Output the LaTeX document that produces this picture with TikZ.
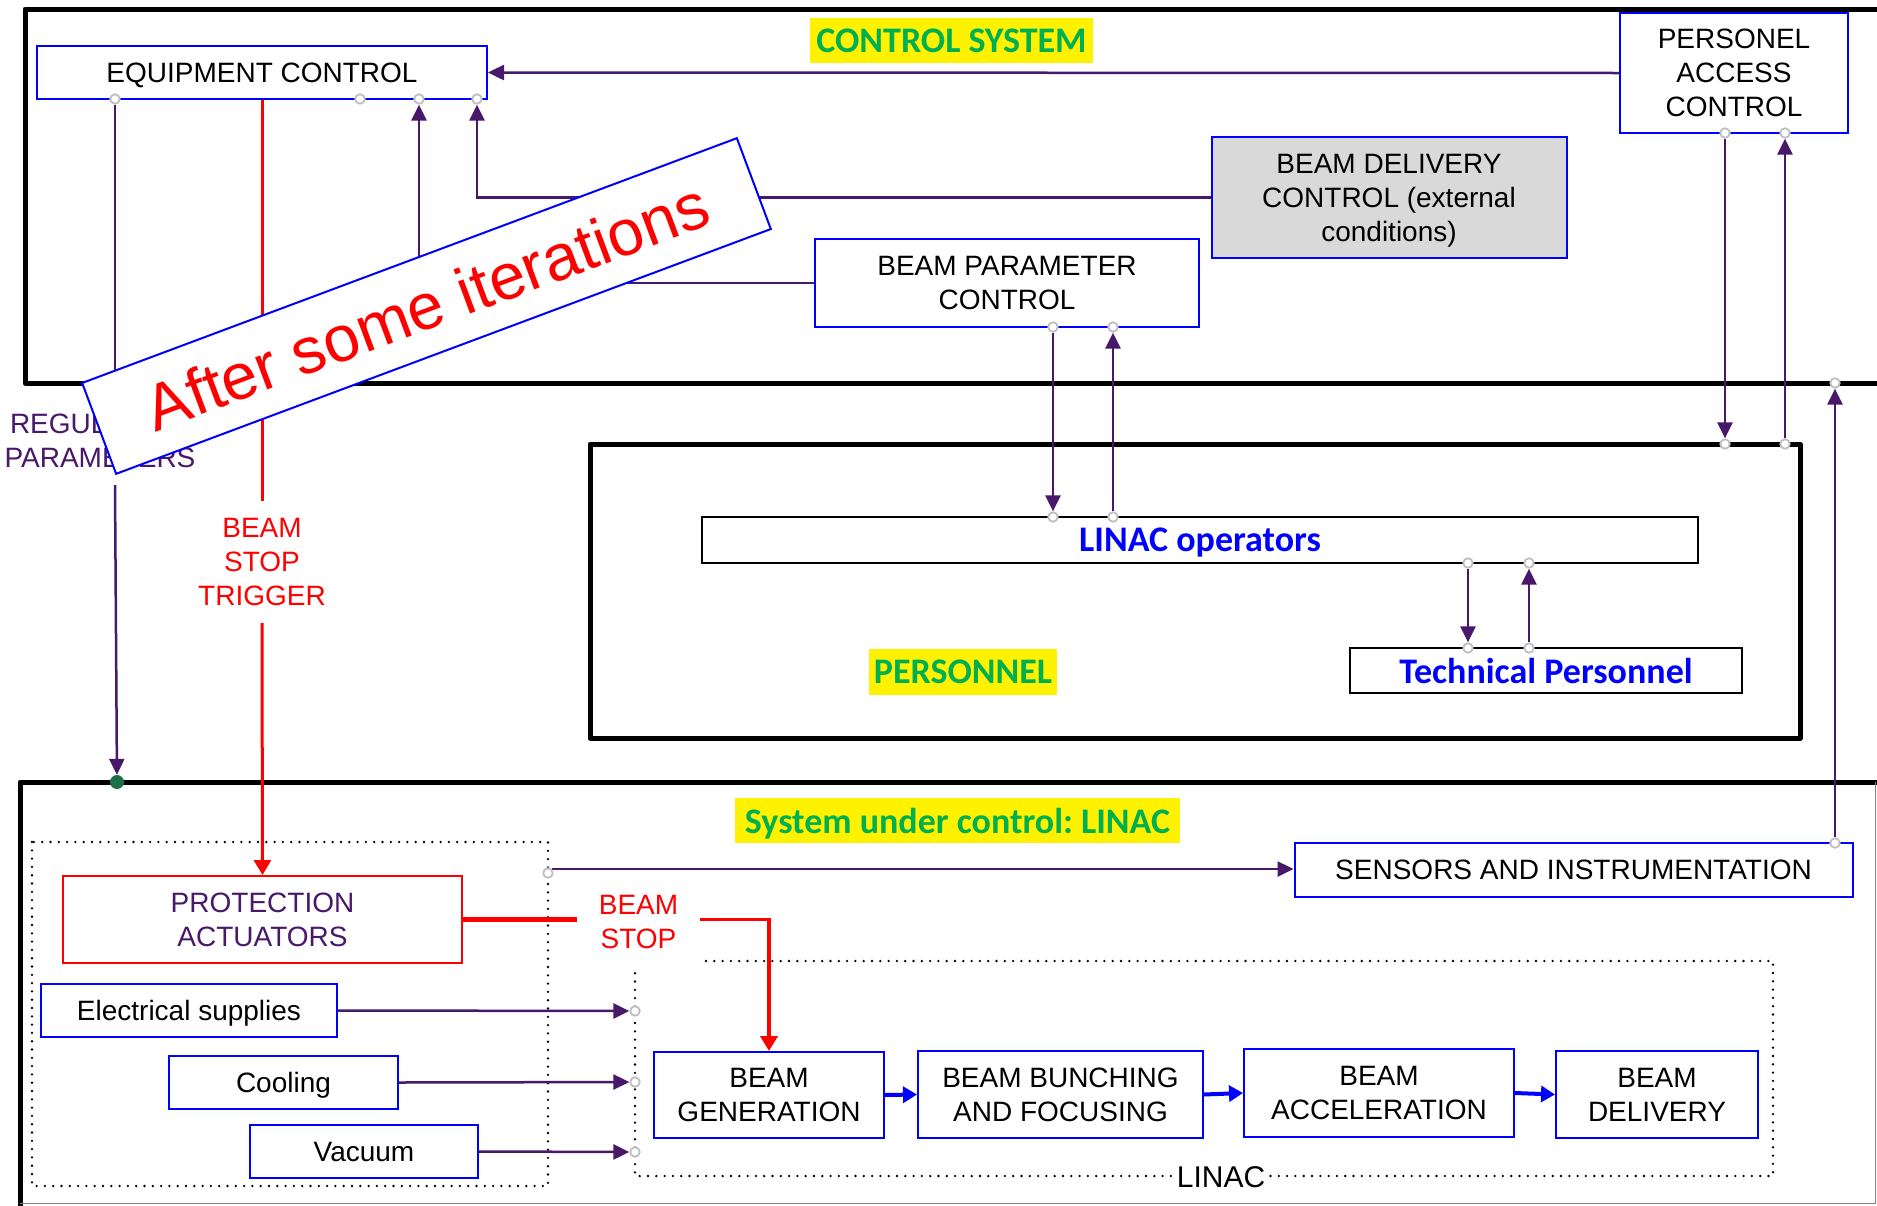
\documentclass[tikz,border=0pt]{standalone}
\usepackage{fontspec}
\setmainfont{Liberation Sans}
\newfontfamily\carlito{Carlito}
\usetikzlibrary{arrows.meta,calc}
\frenchspacing

\definecolor{vio}{RGB}{72,24,106}
\definecolor{ctrlgreen}{RGB}{0,176,80}
\definecolor{dotgreen}{RGB}{30,110,70}
\definecolor{pgrey}{RGB}{191,191,191}
\definecolor{boxgrey}{RGB}{217,217,217}

\newcommand\mainsz{\fontsize{28}{34}\selectfont}
\newcommand\headsz{\fontsize{36}{40}\selectfont\carlito\bfseries}

\pgfdeclarelayer{back}
\pgfdeclarelayer{front}
\pgfsetlayers{back,main,front}

\tikzset{
  thickframe/.style={draw=black, line width=5pt, line join=round, line cap=round},
  bluebox/.style={draw=blue, fill=white, line width=2pt, inner sep=0pt, align=center, font=\mainsz, text=black},
  oneline/.style={text depth=0pt},
  greybox/.style={bluebox, fill=boxgrey},
  redbox/.style={draw=red, fill=white, line width=2pt, inner sep=0pt, align=center, font=\mainsz, text=vio},
  blackbox/.style={draw=black, fill=white, line width=2.5pt, inner sep=0pt, align=center, font=\headsz, text=blue, oneline},
  hilite/.style={fill=yellow, text=ctrlgreen, font=\headsz, inner sep=0pt, oneline},
  port/.style={circle, draw=pgrey, fill=white, line width=1.8pt, minimum size=9.5pt, inner sep=0pt},
  pline/.style={draw=vio, line width=2.5pt},
  parr/.style={pline, -{Triangle[length=16pt,width=15pt]}},
  rline/.style={draw=red, line width=3pt},
  rarr/.style={rline, -{Triangle[length=15pt,width=17pt]}},
  barr/.style={draw=blue, line width=4pt, -{Triangle[length=14pt,width=16pt]}},
  dotbox/.style={draw=black, line width=2.6pt, line cap=round, dash pattern=on 0pt off 8.3pt},
  sigtext/.style={align=center, font=\mainsz, inner xsep=4pt, inner ysep=17pt},
}

\begin{document}
\begin{tikzpicture}[x=1pt,y=-1pt]
\useasboundingbox (0,0) rectangle (1877,1205);

% ---------------- boxes ----------------
\node[bluebox, oneline, minimum width=450pt, minimum height=53pt] (ec) at (262,72.5) {EQUIPMENT CONTROL};
\node[bluebox, minimum width=228pt, minimum height=120pt] (pac) at (1734,73) {PERSONEL\\ACCESS\\CONTROL};
\node[greybox, minimum width=355pt, minimum height=121pt] (bdc) at (1389,197.5) {\rule{0pt}{25.5pt}BEAM DELIVERY\\CONTROL (external\\conditions)};
\node[bluebox, minimum width=384pt, minimum height=88pt] (bpc) at (1007,283) {BEAM PARAMETER\\CONTROL};

\node[blackbox, minimum width=996pt, minimum height=46pt] (lop) at (1200,540) {LINAC operators};
\node[blackbox, minimum width=392pt, minimum height=45pt] (tp) at (1546,670.5) {Technical Personnel};

\node[bluebox, oneline, minimum width=558pt, minimum height=54pt] (sens) at (1573.5,870) {SENSORS AND INSTRUMENTATION};
\node[redbox, minimum width=399pt, minimum height=87pt] (pa) at (262.5,919.5) {PROTECTION\\ACTUATORS};
\node[bluebox, oneline, minimum width=296pt, minimum height=53pt] (es) at (189,1010.5) {Electrical supplies};
\node[bluebox, oneline, minimum width=229pt, minimum height=53pt] (cool) at (283.5,1082.5) {Cooling};
\node[bluebox, oneline, minimum width=228pt, minimum height=53pt] (vac) at (364,1151.5) {Vacuum};

\node[bluebox, minimum width=230pt, minimum height=86pt] (bg) at (769,1095) {BEAM\\GENERATION};
\node[bluebox, minimum width=285pt, minimum height=87pt] (bbf) at (1060.5,1094.5) {BEAM BUNCHING\\AND FOCUSING};
\node[bluebox, minimum width=270pt, minimum height=88pt] (ba) at (1379,1093) {BEAM\\ACCELERATION};
\node[bluebox, minimum width=202pt, minimum height=87pt] (bd) at (1657,1094.5) {BEAM\\DELIVERY};

% ---------------- titles ----------------
\node[hilite, minimum width=283pt, minimum height=45pt] (tctl) at (951.5,40.5) {CONTROL SYSTEM};
\node[hilite, minimum width=188pt, minimum height=46pt] (tpers) at (963,672) {PERSONNEL};
\node[hilite, minimum width=445pt, minimum height=45pt] (tsys) at (957.5,820.5) {System under control: LINAC};
\node[fill=white, font=\fontsize{30}{34}\selectfont, inner sep=3pt] (tlinac) at (1221,1177) {LINAC};

% ---------------- signal labels ----------------
\node[sigtext, text=vio] (reg) at (100,441) {REGULATION\\PARAMETERS};
\node[sigtext, text=red] (trig) at (262,562) {BEAM\\STOP\\TRIGGER};
\node[sigtext, text=red, inner xsep=22pt] (stop) at (638.5,922) {BEAM\\STOP};

% ---------------- ports ----------------
\node[port] (ec1) at (115,99) {};
\node[port] (ec2) at (360,99) {};
\node[port] (ec3) at (419,99) {};
\node[port] (ec4) at (477,99) {};
\node[port] (pac1) at (1725,133) {};
\node[port] (pac2) at (1785,133) {};
\node[port] (bpc1) at (1053,327) {};
\node[port] (bpc2) at (1113,327) {};
\node[port] (lop1) at (1053,517) {};
\node[port] (lop2) at (1113,517) {};
\node[port] (lop3) at (1468,563) {};
\node[port] (lop4) at (1529,563) {};
\node[port] (tp1) at (1468,648) {};
\node[port] (tp2) at (1529,648) {};
\node[port] (pers1) at (1725,444) {};
\node[port] (pers2) at (1785,444) {};
\node[port] (ctl1) at (1835,383) {};
\node[port] (sens1) at (1835,843) {};
\node[port] (lft1) at (548,873) {};
\node[port] (lin1) at (635,1011) {};
\node[port] (lin2) at (635,1082) {};
\node[port] (lin3) at (635,1152) {};
\node[circle, fill=dotgreen, minimum size=14pt, inner sep=0pt] (gdot) at (117,782) {};

% ---------------- frames and connectors ----------------
\begin{pgfonlayer}{back}
  \fill[white] (0,0) rectangle (1877,1205);
  % control system, personnel and LINAC frames
  \draw[thickframe] (1890,9) -- (25,9) -- (25,383) -- (1890,383);
  \draw[thickframe] (590,444) rectangle (1800,738);
  \draw[thickframe] (1890,782) -- (20,782) -- (20,1215);
  \draw[gray, line width=1.5pt] (20,1203.5) -- (1875.5,1203.5) -- (1875.5,782);
  % dotted groups
  \draw[dotbox] (32,842) rectangle (548,1186);
  \draw[dotbox] (706,961) -- (1773,961) -- (1773,1176) -- (635,1176) -- (635,970);

  % control system links
  \draw[parr] (pac.west) -- (ec.east);
  \draw[parr] (bdc.west) -| (ec4);
  \draw[parr] (bpc.west) -| (ec3);
  \draw[pline] (ec1) -- (reg.north -| ec1);
  \draw[parr] (reg.south -| ec1) -- (gdot);
  \draw[rline] (ec.south) -- (trig.north);
  \draw[rarr] (trig.south) -- (pa.north);

  % personnel links
  \draw[parr] (pac1) -- (pers1);
  \draw[parr] (pers2) -- (pac2);
  \draw[parr] (bpc1) -- (lop1);
  \draw[parr] (lop2) -- (bpc2);
  \draw[parr] (lop3) -- (tp1);
  \draw[parr] (tp2) -- (lop4);
  \draw[parr] (sens1) -- (ctl1);

  % LINAC links
  \draw[parr] (lft1.north east) -- (lft1.north east -| sens.west);
  \draw[rline, line width=4.5pt] (pa.east) -- (stop.west |- pa.east);
  \draw[rarr, line width=3.5pt] (stop.east |- pa.east) -| (bg.north);
  \draw[parr] (es.east) -- (lin1);
  \draw[parr] (cool.east) -- (lin2);
  \draw[parr] (vac.east) -- (lin3);
  \draw[barr] (bg.east) -- (bbf.west);
  \draw[barr] (bbf.east) -- (ba.west);
  \draw[barr] (ba.east) -- (bd.west);
\end{pgfonlayer}

% ---------------- overlay banner ----------------
\begin{pgfonlayer}{front}
  \node[draw=blue, fill=white, line width=2pt, rotate=20.5, minimum width=699pt, minimum height=97pt,
        inner sep=0pt, text=red, font=\fontsize{65}{65}\selectfont] (banner) at (426.5,306) {After some iterations};
\end{pgfonlayer}
\end{tikzpicture}
\end{document}
